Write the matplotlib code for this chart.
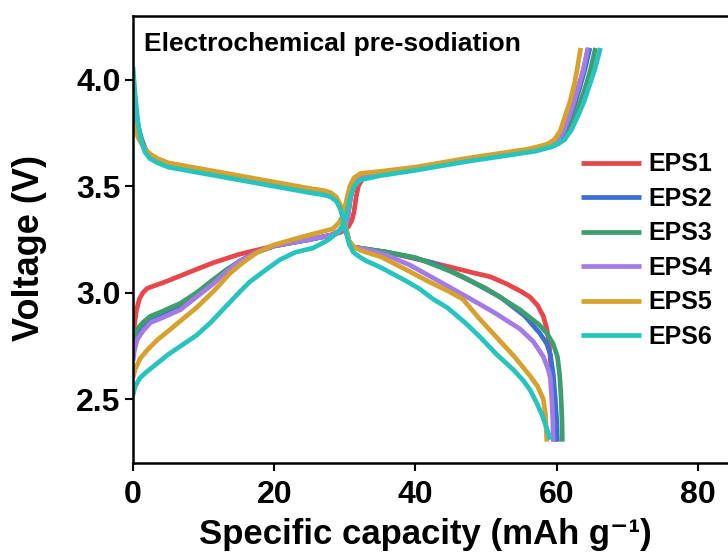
import matplotlib.pyplot as plt

plt.rcParams['font.family'] = ['Liberation Sans', 'DejaVu Sans']
plt.rcParams['font.weight'] = 'bold'

labels = ['EPS1', 'EPS2', 'EPS3', 'EPS4', 'EPS5', 'EPS6']
colors = ['#e8464a', '#3c6fd2', '#3d9f6c', '#a47be6', '#d6a12c', '#27c4bf']

# charge branch (capacity, voltage)
eps1_chg_x = [0, 0.2, 0.5, 0.9, 1.4, 2.0, 2.8, 4.5, 6, 9, 11.3, 15, 20, 25, 28, 29.5, 30.5, 31.0, 31.3, 31.6, 31.9, 32.5,
              35, 40, 47, 52, 57, 58.5, 59.5, 60.3, 61, 61.8, 62.5, 63.2, 63.8, 64.5]
eps1_chg_y = [2.80, 2.85, 2.92, 2.97, 3.00, 3.02, 3.03, 3.05, 3.07, 3.11, 3.14, 3.18, 3.22, 3.25, 3.27, 3.285, 3.31, 3.34, 3.38, 3.45, 3.50, 3.535,
              3.555, 3.58, 3.62, 3.645, 3.67, 3.685, 3.70, 3.72, 3.76, 3.83, 3.90, 3.98, 4.05, 4.15]
eps2_chg_x = [0, 0.2, 0.6, 1.4, 2.5, 4, 6.7, 9, 11.3, 13.3, 15.2, 17.5, 20, 25, 28, 29.3, 30.2, 30.5, 30.8, 31.2, 31.7, 33,
              35, 40, 47, 52, 57, 58.7, 59.7, 60.5, 61.2, 62, 62.7, 63.4, 64, 64.7]
eps2_chg_y = [2.73, 2.77, 2.81, 2.85, 2.88, 2.90, 2.94, 2.99, 3.05, 3.10, 3.15, 3.19, 3.22, 3.25, 3.27, 3.29, 3.32, 3.38, 3.45, 3.50, 3.53, 3.545,
              3.555, 3.58, 3.62, 3.645, 3.67, 3.685, 3.70, 3.72, 3.76, 3.83, 3.90, 3.98, 4.05, 4.15]
eps3_chg_x = [0, 0.2, 0.6, 1.4, 2.5, 4, 6.7, 9, 11.3, 13.3, 15.2, 17.5, 20, 25, 28, 29.3, 30.2, 30.5, 30.8, 31.2, 31.7, 33,
              35, 40, 47, 52, 57, 59.2, 60.2, 61.1, 61.8, 62.6, 63.4, 64.2, 64.8, 65.5]
eps3_chg_y = [2.76, 2.80, 2.83, 2.86, 2.89, 2.91, 2.95, 3.00, 3.06, 3.11, 3.15, 3.19, 3.22, 3.25, 3.27, 3.29, 3.32, 3.38, 3.45, 3.50, 3.53, 3.545,
              3.555, 3.58, 3.62, 3.645, 3.67, 3.685, 3.70, 3.72, 3.76, 3.83, 3.90, 3.98, 4.05, 4.15]
eps4_chg_x = [0, 0.2, 0.6, 1.4, 2.5, 4, 6.7, 9, 11.3, 13.3, 15.2, 17.5, 20, 25, 28, 29.3, 30.2, 30.5, 30.8, 31.2, 31.7, 33,
              35, 40, 47, 52, 57, 58.4, 59.3, 60.2, 61, 61.8, 62.5, 63.2, 63.8, 64.4]
eps4_chg_y = [2.68, 2.73, 2.78, 2.82, 2.86, 2.88, 2.92, 2.98, 3.04, 3.10, 3.15, 3.19, 3.22, 3.25, 3.27, 3.29, 3.32, 3.38, 3.45, 3.50, 3.53, 3.545,
              3.555, 3.58, 3.62, 3.645, 3.67, 3.685, 3.70, 3.72, 3.76, 3.83, 3.90, 3.98, 4.05, 4.15]
eps5_chg_x = [0, 0.3, 1, 2, 3.5, 5, 7, 9, 11.5, 13.7, 15.5, 17.6, 20, 23.7, 26, 28.3, 29.2, 29.7, 30.2, 30.7, 31.3, 32.2,
              35, 40, 47, 52, 56, 57.8, 58.8, 59.7, 60.5, 61.2, 61.9, 62.5, 62.9, 63.4]
eps5_chg_y = [2.60, 2.64, 2.69, 2.73, 2.78, 2.82, 2.875, 2.93, 3.01, 3.09, 3.14, 3.19, 3.225, 3.26, 3.28, 3.30, 3.33, 3.36, 3.43, 3.50, 3.54, 3.56,
              3.57, 3.59, 3.63, 3.655, 3.675, 3.69, 3.70, 3.72, 3.76, 3.83, 3.90, 3.98, 4.05, 4.15]
eps6_chg_x = [0, 0.3, 1, 2, 3.5, 5, 7, 9, 11, 13, 15, 16.5, 18.5, 20.8, 23, 25.5, 27.5, 28.9, 29.6, 30.2, 30.7, 31.3, 32.2,
              35, 40, 47, 52, 57, 59.2, 60.2, 61.1, 62, 63, 63.9, 64.7, 65.4, 66.2]
eps6_chg_y = [2.52, 2.56, 2.60, 2.63, 2.67, 2.71, 2.755, 2.80, 2.86, 2.93, 3.00, 3.05, 3.10, 3.155, 3.19, 3.21, 3.245, 3.28, 3.31, 3.36, 3.44, 3.50, 3.53,
              3.55, 3.575, 3.615, 3.64, 3.665, 3.685, 3.70, 3.72, 3.76, 3.83, 3.90, 3.98, 4.05, 4.15]

# discharge branch (capacity, voltage)
eps1_dis_x = [0, 0.3, 0.7, 1.2, 1.8, 2.5, 3.5, 5, 10, 15, 20, 25, 27, 28, 28.8, 29.4, 29.8, 30.2, 30.6, 31.2, 32,
              36, 40, 45, 48, 50.6, 53, 55, 56.2, 57.3, 58.1, 58.6, 58.9, 59.2, 59.5, 59.8]
eps1_dis_y = [3.92, 3.86, 3.78, 3.72, 3.67, 3.64, 3.62, 3.60, 3.57, 3.54, 3.51, 3.48, 3.47, 3.46, 3.44, 3.40, 3.35, 3.29, 3.24, 3.215, 3.21,
              3.19, 3.16, 3.12, 3.095, 3.075, 3.04, 3.005, 2.98, 2.94, 2.89, 2.83, 2.77, 2.65, 2.50, 2.30]
eps2_dis_x = [0, 0.3, 0.7, 1.2, 1.8, 2.5, 3.5, 5, 10, 15, 20, 25, 27, 28, 28.8, 29.4, 29.8, 30.2, 30.6, 31.2, 32,
              36, 39, 42.5, 47, 52, 55.5, 57.6, 58.6, 59.1, 59.5, 59.8, 60, 60.1]
eps2_dis_y = [3.95, 3.88, 3.79, 3.72, 3.67, 3.64, 3.62, 3.60, 3.57, 3.54, 3.51, 3.48, 3.47, 3.46, 3.44, 3.40, 3.35, 3.29, 3.24, 3.215, 3.21,
              3.19, 3.17, 3.14, 3.07, 2.98, 2.89, 2.81, 2.76, 2.71, 2.62, 2.50, 2.40, 2.30]
eps3_dis_x = [0, 0.3, 0.7, 1.2, 1.8, 2.5, 3.5, 5, 10, 15, 20, 25, 27, 28, 28.8, 29.4, 29.8, 30.2, 30.6, 31.2, 32,
              36, 40, 45, 50, 54.8, 57.5, 58.6, 59.5, 60.1, 60.4, 60.6, 60.75, 60.8]
eps3_dis_y = [3.93, 3.87, 3.78, 3.72, 3.67, 3.64, 3.62, 3.60, 3.57, 3.54, 3.51, 3.48, 3.47, 3.46, 3.44, 3.40, 3.35, 3.29, 3.24, 3.215, 3.21,
              3.19, 3.165, 3.10, 3.02, 2.92, 2.85, 2.81, 2.76, 2.70, 2.62, 2.52, 2.40, 2.30]
eps4_dis_x = [0, 0.3, 0.7, 1.2, 1.8, 2.5, 3.5, 5, 10, 15, 20, 25, 27, 28, 28.8, 29.4, 29.8, 30.2, 30.6, 31.2, 32,
              34, 36, 39.2, 43, 47.3, 51, 54.8, 56.7, 58.1, 58.8, 59.1, 59.3, 59.45, 59.5]
eps4_dis_y = [3.90, 3.85, 3.77, 3.71, 3.67, 3.64, 3.62, 3.60, 3.57, 3.54, 3.51, 3.48, 3.47, 3.46, 3.44, 3.40, 3.35, 3.29, 3.24, 3.215, 3.21,
              3.195, 3.175, 3.13, 3.06, 2.98, 2.91, 2.83, 2.77, 2.70, 2.64, 2.60, 2.50, 2.40, 2.30]
eps5_dis_x = [0, 0.3, 0.7, 1.2, 1.8, 2.5, 3.5, 5, 10, 15, 20, 25, 27, 28, 28.8, 29.4, 29.8, 30.2, 30.6, 31.5,
              33, 35, 38, 42, 44.5, 46.7, 49, 51.5, 54, 56.2, 57.3, 58.1, 58.4, 58.6]
eps5_dis_y = [3.80, 3.77, 3.73, 3.70, 3.67, 3.65, 3.63, 3.61, 3.58, 3.55, 3.52, 3.49, 3.48, 3.47, 3.45, 3.41, 3.36, 3.30, 3.24, 3.21,
              3.19, 3.17, 3.12, 3.05, 3.01, 2.97, 2.88, 2.79, 2.70, 2.61, 2.56, 2.50, 2.43, 2.30]
eps6_dis_x = [0, 0.3, 0.7, 1.1, 1.7, 2.4, 3.5, 5, 10, 15, 20, 25, 27, 28, 28.8, 29.4, 29.8, 30.2, 30.6, 31.2,
              32, 33, 35, 38.4, 40.5, 42.5, 44.5, 47, 49.2, 51.5, 53.8, 55.2, 56.2, 57.2, 58, 58.6, 59.1]
eps6_dis_y = [4.06, 3.93, 3.80, 3.72, 3.66, 3.63, 3.61, 3.59, 3.56, 3.53, 3.50, 3.47, 3.46, 3.45, 3.43, 3.39, 3.34, 3.28, 3.23, 3.19,
              3.17, 3.15, 3.12, 3.06, 3.02, 2.97, 2.93, 2.86, 2.79, 2.71, 2.64, 2.59, 2.545, 2.48, 2.42, 2.36, 2.31]

charge = [(eps1_chg_x, eps1_chg_y), (eps2_chg_x, eps2_chg_y), (eps3_chg_x, eps3_chg_y),
          (eps4_chg_x, eps4_chg_y), (eps5_chg_x, eps5_chg_y), (eps6_chg_x, eps6_chg_y)]
discharge = [(eps1_dis_x, eps1_dis_y), (eps2_dis_x, eps2_dis_y), (eps3_dis_x, eps3_dis_y),
             (eps4_dis_x, eps4_dis_y), (eps5_dis_x, eps5_dis_y), (eps6_dis_x, eps6_dis_y)]

fig = plt.figure(figsize=(7.28, 5.58), dpi=100)
# axes run past the right edge of the figure
ax = fig.add_axes([0.1827, 0.1703, 0.873, 0.801])

for i in range(6):
    cx, cy = charge[i]
    dx, dy = discharge[i]
    ax.plot(cx, cy, color=colors[i], lw=3.4, solid_joinstyle='round', solid_capstyle='butt', label=labels[i])
    ax.plot(dx, dy, color=colors[i], lw=3.4, solid_joinstyle='round', solid_capstyle='butt')

ax.set_xlim(0, 90)
ax.set_ylim(2.2, 4.3)
ax.set_xticks([0, 20, 40, 60, 80])
ax.set_yticks([2.5, 3.0, 3.5, 4.0])
ax.yaxis.set_major_formatter(plt.FormatStrFormatter('%.1f'))

for s in ax.spines.values():
    s.set_linewidth(1.8)
ax.tick_params(axis='both', direction='out', length=6, width=1.5, labelsize=23)
ax.tick_params(axis='y', pad=3)
ax.tick_params(axis='x', pad=6)

ax.set_xlabel('Specific capacity (mAh g\u207b\u00b9)', fontsize=25, fontweight='bold')
ax.set_ylabel('Voltage (V)', fontsize=26, fontweight='bold')
ax.xaxis.set_label_coords(0.46, -0.122)
ax.yaxis.set_label_coords(-0.136, 0.481)

ax.text(1.6, 4.225, 'Electrochemical pre-sodiation', fontsize=19, fontweight='bold', va='top', ha='left')

leg = ax.legend(loc='upper left', bbox_to_anchor=(0.705, 0.695), frameon=False, fontsize=18,
                handlelength=2.4, handletextpad=0.3, labelspacing=0.42, borderpad=0, borderaxespad=0)
for h in leg.get_lines():
    h.set_linewidth(3.4)

fig.savefig('out.png', dpi=100)
